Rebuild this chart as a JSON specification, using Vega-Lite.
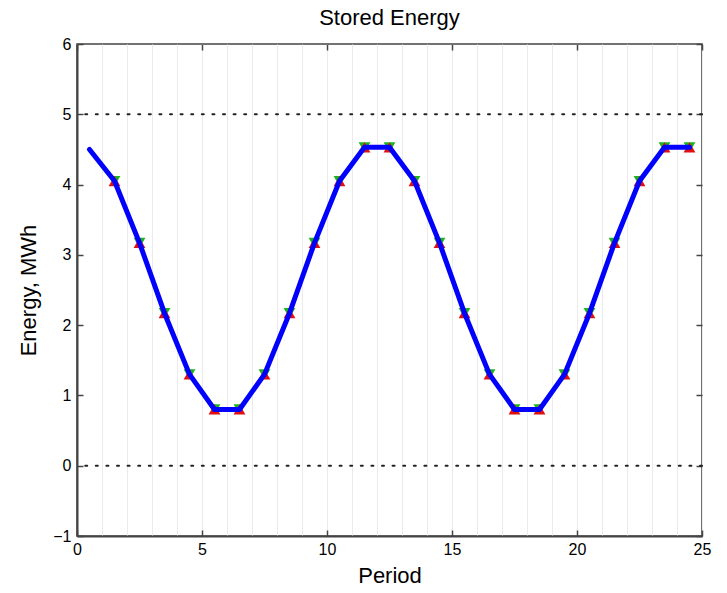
{
  "$schema": "https://vega.github.io/schema/vega-lite/v6.json",
  "width": 625,
  "height": 492,
  "autosize": "none",
  "padding": {"left": 77, "top": 44, "right": 25, "bottom": 57},
  "background": "white",
  "title": {"text": "Stored Energy", "fontSize": 22, "fontWeight": "normal", "font": "Liberation Sans", "color": "#000", "offset": 6},
  "config": {
    "view": {"stroke": "#444", "strokeWidth": 1.5},
    "axis": {"labelFont": "Liberation Sans", "titleFont": "Liberation Sans", "labelFontSize": 16, "titleFontSize": 22, "titleFontWeight": "normal", "labelColor": "#000", "titleColor": "#000", "domainColor": "#444", "domainWidth": 2, "tickColor": "#444", "tickWidth": 1.5}
  },
  "datasets": {
    "energy": [
      {"period": 0.5, "energy": 4.5},
      {"period": 1.5, "energy": 4.05},
      {"period": 2.5, "energy": 3.17},
      {"period": 3.5, "energy": 2.17},
      {"period": 4.5, "energy": 1.3},
      {"period": 5.5, "energy": 0.8},
      {"period": 6.5, "energy": 0.8},
      {"period": 7.5, "energy": 1.3},
      {"period": 8.5, "energy": 2.17},
      {"period": 9.5, "energy": 3.17},
      {"period": 10.5, "energy": 4.05},
      {"period": 11.5, "energy": 4.53},
      {"period": 12.5, "energy": 4.53},
      {"period": 13.5, "energy": 4.05},
      {"period": 14.5, "energy": 3.17},
      {"period": 15.5, "energy": 2.17},
      {"period": 16.5, "energy": 1.3},
      {"period": 17.5, "energy": 0.8},
      {"period": 18.5, "energy": 0.8},
      {"period": 19.5, "energy": 1.3},
      {"period": 20.5, "energy": 2.17},
      {"period": 21.5, "energy": 3.17},
      {"period": 22.5, "energy": 4.05},
      {"period": 23.5, "energy": 4.53},
      {"period": 24.5, "energy": 4.53}
    ],
    "limits": [{"level": 0}, {"level": 5}]
  },
  "layer": [
    {
      "data": {"name": "limits"},
      "mark": {"type": "rule", "color": "#222", "strokeWidth": 2, "strokeDash": [2, 8.6], "strokeCap": "round"},
      "encoding": {
        "y": {"field": "level", "type": "quantitative", "scale": {"domain": [-1, 6], "nice": false},
          "axis": {"orient": "right", "title": null, "labels": false, "domain": false, "grid": false, "values": [-1, 0, 1, 2, 3, 4, 5, 6], "tickSize": -6}}
      }
    },
    {
      "data": {"name": "energy"},
      "transform": [{"filter": "datum.period > 1"}],
      "mark": {"type": "point", "shape": "triangle-down", "filled": true, "color": "#1db31d", "size": 140, "opacity": 1},
      "encoding": {
        "x": {"field": "period", "type": "quantitative", "scale": {"domain": [0, 25], "nice": false},
          "axis": {"orient": "top", "title": null, "labels": false, "domain": false, "grid": false, "values": [0, 5, 10, 15, 20, 25], "tickSize": -6}},
        "y": {"field": "energy", "type": "quantitative", "axis": null}
      }
    },
    {
      "data": {"name": "energy"},
      "transform": [{"filter": "datum.period > 1"}],
      "mark": {"type": "point", "shape": "triangle-up", "filled": true, "color": "#e01010", "size": 140, "opacity": 1},
      "encoding": {
        "x": {"field": "period", "type": "quantitative", "axis": null},
        "y": {"field": "energy", "type": "quantitative", "axis": null}
      }
    },
    {
      "data": {"name": "energy"},
      "mark": {"type": "line", "color": "#0000ff", "strokeWidth": 5, "strokeCap": "round", "strokeJoin": "round"},
      "encoding": {
        "x": {"field": "period", "type": "quantitative", "title": "Period",
          "axis": {"orient": "bottom", "values": [0, 1, 2, 3, 4, 5, 6, 7, 8, 9, 10, 11, 12, 13, 14, 15, 16, 17, 18, 19, 20, 21, 22, 23, 24, 25],
            "labelExpr": "datum.value % 5 === 0 ? datum.label : ''",
            "tickOpacity": {"condition": {"test": "datum.value % 5 === 0", "value": 1}, "value": 0},
            "grid": true, "gridColor": "#ebebeb", "gridWidth": 1,
            "tickSize": -6, "labelPadding": 11, "titlePadding": 8, "labelFlush": false}},
        "y": {"field": "energy", "type": "quantitative", "title": "Energy, MWh",
          "axis": {"orient": "left", "values": [-1, 0, 1, 2, 3, 4, 5, 6], "grid": false, "tickSize": -6, "labelPadding": 12, "titlePadding": 12}}
      }
    }
  ],
  "resolve": {"axis": {"x": "independent", "y": "independent"}}
}
